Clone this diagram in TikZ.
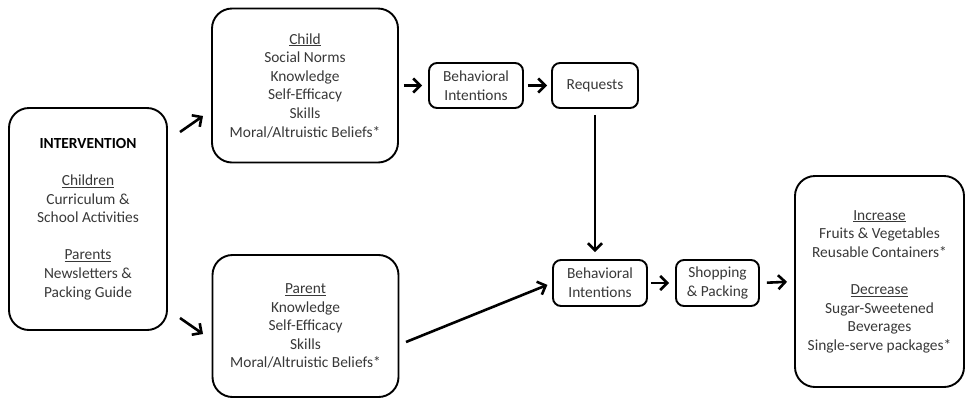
\documentclass[tikz,border=0pt]{standalone}
\usepackage{fontspec}
\setmainfont{Carlito}
\usetikzlibrary{arrows.meta}
\begin{document}
\begin{tikzpicture}[x=1pt,y=-1pt,
  box/.style={draw, line width=1.9pt, rounded corners=20pt, align=center,
    text=black!78, font=\fontsize{15.4}{18.6}\selectfont, inner sep=0pt},
  sbox/.style={box, rounded corners=8pt},
  arr/.style={line width=2.6pt, -{Straight Barb[length=7pt,width=14pt]}}]
\useasboundingbox (0,0) rectangle (966,400);

\node[box, minimum width=158pt, minimum height=222pt] (intv) at (88,219)
  {{\color{black}\bfseries INTERVENTION}\\[18.6pt]
   \underline{Children}\\Curriculum \&\\School Activities\\[18.6pt]
   \underline{Parents}\\Newsletters \&\\Packing Guide};
\node[box, minimum width=186pt, minimum height=154pt] (child) at (305,85.5)
  {\underline{Child}\\Social Norms\\Knowledge\\Self-Efficacy\\Skills\\Moral/Altruistic Beliefs*};
\node[box, minimum width=186pt, minimum height=142pt] (parent) at (305.5,326)
  {\underline{Parent}\\Knowledge\\Self-Efficacy\\Skills\\Moral/Altruistic Beliefs*};
\node[sbox, minimum width=94pt, minimum height=45pt] (bi1) at (476,85.5)
  {Behavioral\\Intentions};
\node[sbox, minimum width=86pt, minimum height=45pt] (req) at (595,85.5)
  {Requests};
\node[sbox, minimum width=94pt, minimum height=46pt] (bi2) at (600,283)
  {Behavioral\\Intentions};
\node[sbox, minimum width=83pt, minimum height=46pt] (shop) at (717.5,283)
  {Shopping\\\& Packing};
\node[box, minimum width=169pt, minimum height=211pt] (out) at (879.5,281.5)
  {\underline{Increase}\\Fruits \& Vegetables\\Reusable Containers*\\[18.6pt]
   \underline{Decrease}\\Sugar-Sweetened\\Beverages\\Single-serve packages*};

\coordinate (a1s) at (180,132);
\coordinate (a1e) at (203,116);
\coordinate (a2s) at (180,318);
\coordinate (a2e) at (203,334);
\coordinate (a3s) at (406,342);

\draw[arr] (a1s) -- (a1e);
\draw[arr] (a2s) -- (a2e);
\draw[arr, shorten <=5pt, shorten >=6pt] (child.east) -- (bi1.west);
\draw[arr, shorten <=4pt, shorten >=4pt] (bi1.east) -- (req.west);
\draw[arr, shorten <=6pt, shorten >=7pt] (req.south) -- (req.south |- bi2.north);
\draw[arr, shorten >=5pt] (a3s) -- (bi2.west);
\draw[arr, shorten <=3pt, shorten >=6pt] (bi2.east) -- (shop.west);
\draw[arr, shorten <=7pt, shorten >=7pt] (shop.east) -- (out.west);
\end{tikzpicture}
\end{document}
